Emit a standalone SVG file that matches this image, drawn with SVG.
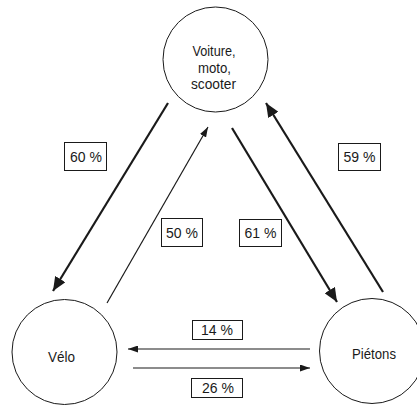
<svg xmlns="http://www.w3.org/2000/svg" width="417" height="406" viewBox="0 0 417 406">
<style>
.node{fill:#fff;stroke:#1a1a1a;stroke-width:1}
.t{font-family:"Liberation Sans",Arial,sans-serif;font-size:14px;fill:#1a1a1a;text-anchor:middle}
.n{font-family:"Liberation Sans",Arial,sans-serif;font-size:15px;fill:#1a1a1a;text-anchor:middle}
.box{fill:#fff;stroke:#1a1a1a;stroke-width:1}
.thick{stroke:#1a1a1a;stroke-width:2.2;fill:none}
.thin{stroke:#1a1a1a;stroke-width:1.2;fill:none}
</style>
<defs>
<marker id="big" markerUnits="userSpaceOnUse" viewBox="0 0 14 12" refX="14" refY="6" markerWidth="14" markerHeight="12" orient="auto">
<path d="M0,0 L14,6 L0,12 z" fill="#1a1a1a"/>
</marker>
<marker id="small" markerUnits="userSpaceOnUse" viewBox="0 0 10 7" refX="10" refY="3.5" markerWidth="10" markerHeight="7" orient="auto">
<path d="M0,0 L10,3.5 L0,7 z" fill="#1a1a1a"/>
</marker>
</defs>
<rect width="417" height="406" fill="#fff"/>
<g id="connectors">
<line class="thick" x1="168" y1="103" x2="53" y2="291" marker-end="url(#big)"/>
<line class="thin" x1="107" y1="303" x2="208" y2="127" marker-end="url(#small)"/>
<line class="thick" x1="232" y1="128" x2="337" y2="302" marker-end="url(#big)"/>
<line class="thick" x1="383" y1="292" x2="266" y2="103" marker-end="url(#big)"/>
<line class="thin" x1="310" y1="349" x2="128" y2="349" marker-end="url(#small)"/>
<line class="thin" x1="133" y1="368" x2="310" y2="368" marker-end="url(#small)"/>
</g>
<g id="labels">
<g id="l60"><rect class="box" x="64.5" y="142.5" width="42" height="28"/><text class="t" x="86" y="161.5">60 %</text></g>
<g id="l50"><rect class="box" x="161.5" y="218.5" width="41" height="28"/><text class="t" x="182" y="237.5">50 %</text></g>
<g id="l61"><rect class="box" x="239.5" y="219.5" width="42" height="27"/><text class="t" x="260.5" y="238">61 %</text></g>
<g id="l59"><rect class="box" x="338.5" y="143.5" width="42" height="27"/><text class="t" x="359.5" y="162">59 %</text></g>
<g id="l14"><rect class="box" x="192.5" y="320.5" width="50" height="19"/><text class="t" x="217" y="335">14 %</text></g>
<g id="l26"><rect class="box" x="191.5" y="378.5" width="51" height="19"/><text class="t" x="218" y="393">26 %</text></g>
</g>
<g id="voiture">
<circle class="node" cx="215.5" cy="59.5" r="52.5"/>
<text class="n" x="214" y="56" textLength="43" lengthAdjust="spacingAndGlyphs">Voiture,</text>
<text class="n" x="214.5" y="72.5" textLength="33" lengthAdjust="spacingAndGlyphs">moto,</text>
<text class="n" x="213.5" y="89" textLength="45" lengthAdjust="spacingAndGlyphs">scooter</text>
</g>
<g id="velo">
<circle class="node" cx="64.5" cy="352" r="52.5"/>
<text class="n" x="61.5" y="362" textLength="27" lengthAdjust="spacingAndGlyphs">Vélo</text>
</g>
<g id="pietons">
<circle class="node" cx="372" cy="351" r="52.5"/>
<text class="n" x="374" y="359" textLength="44" lengthAdjust="spacingAndGlyphs">Piétons</text>
</g>
</svg>
